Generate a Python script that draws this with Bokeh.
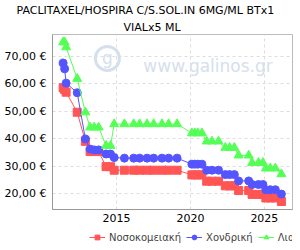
from bokeh.plotting import figure
from bokeh.models import Legend, LegendItem, FixedTicker, Range1d, Title
from bokeh.layouts import column
from bokeh.core.properties import value
from bokeh.embed import file_html
from bokeh.resources import INLINE

title_line1 = "PACLITAXEL/HOSPIRA C/S.SOL.IN 6MG/ML BTx1"
title_line2 = "VIALx5 ML"

dates = [2011.40, 2011.50, 2011.60, 2012.35, 2012.90, 2013.22, 2013.50, 2013.80,
         2014.30, 2014.60, 2014.85,
         2015.54, 2016.17, 2016.57, 2017.07, 2017.52, 2018.08, 2018.53, 2019.10,
         2020.10, 2020.30, 2020.50, 2020.78,
         2021.10, 2021.46, 2021.90,
         2022.36, 2022.65, 2022.97,
         2023.26, 2023.94,
         2024.17, 2024.60, 2024.90,
         2025.10, 2025.40, 2025.74,
         2026.15]

hospital = [58.6, 58.0, 57.0, 49.7, 39.1, 35.4, 35.4, 35.4, 29.9, 29.9, 28.6,
            28.6, 28.6, 28.6, 28.6, 28.6, 28.6, 28.6, 28.6,
            26.9, 26.9, 26.9, 26.9,
            24.6, 24.6, 24.6,
            22.9, 22.9, 22.9,
            21.2, 21.2,
            19.8, 19.8, 19.8,
            18.5, 18.5, 18.5,
            17.2]

wholesale = [67.6, 65.5, 60.3, 56.8, 40.0, 36.3, 36.0, 36.0, 34.5, 34.5, 33.2,
             33.0, 33.0, 33.0, 33.0, 33.0, 33.0, 33.0, 33.0,
             30.8, 30.8, 30.8, 30.8,
             28.6, 28.6, 28.6,
             27.0, 27.0, 27.0,
             24.7, 24.7,
             23.4, 23.4, 23.4,
             21.5, 21.5, 21.5,
             19.9]

retail = [75.2, 75.2, 73.4, 61.9, 49.7, 44.2, 44.2, 44.2, 37.5, 37.5, 45.4,
          45.4, 45.4, 45.4, 45.4, 45.4, 45.4, 45.4, 45.4,
          42.1, 42.1, 42.1, 42.1,
          39.1, 39.1, 39.1,
          36.8, 36.8, 36.8,
          34.0, 34.0,
          31.3, 31.3, 31.3,
          29.3, 29.3, 29.3,
          27.2]

series_names = ["Νοσοκομειακή", "Χονδρική", "Λιανική"]
x_ticks = [2015, 2020, 2025]
y_ticks = [20, 30, 40, 50, 60, 70]
y_tick_labels = ["20,00 €", "30,00 €", "40,00 €", "50,00 €", "60,00 €", "70,00 €"]

FONT = "DejaVu Sans"

p = figure(frame_width=240, frame_height=175, output_backend="svg", toolbar_location=None,
           x_range=Range1d(2010.68, 2026.9), y_range=Range1d(14.3, 78.0),
           min_border_left=52, min_border_right=8, min_border_top=34, min_border_bottom=19,
           title=None)

t2 = Title(text=title_line2, align="left", offset=71, standoff=2,
           text_font=FONT, text_font_size="11px", text_font_style="normal",
           text_color="#000000")
t1 = Title(text=title_line1, align="left", offset=-36, standoff=1,
           text_font=FONT, text_font_size="11px", text_font_style="normal",
           text_color="#000000")
p.add_layout(t2, "above")
p.add_layout(t1, "above")

p.outline_line_color = "#bbbbbb"
p.background_fill_color = "#ffffff"
p.border_fill_color = "#ffffff"

p.xgrid.ticker = FixedTicker(ticks=x_ticks)
p.ygrid.ticker = FixedTicker(ticks=y_ticks)
for g in (p.xgrid, p.ygrid):
    g.grid_line_color = "#dddddd"
    g.grid_line_dash = "3 3"

p.xaxis.ticker = FixedTicker(ticks=x_ticks)
p.yaxis.ticker = FixedTicker(ticks=y_ticks)
p.yaxis.major_label_overrides = {t: l for t, l in zip(y_ticks, y_tick_labels)}
for ax in (p.xaxis, p.yaxis):
    ax.axis_line_color = "#999999"
    ax.major_tick_line_color = None
    ax.minor_tick_line_color = None
    ax.major_tick_out = 0
    ax.major_tick_in = 0
    ax.minor_tick_out = 0
    ax.minor_tick_in = 0
    ax.major_label_text_font = FONT
    ax.major_label_text_font_size = "11px"
    ax.major_label_text_color = "#000000"
p.yaxis.major_label_standoff = 6
p.xaxis.major_label_standoff = 4

# watermark
p.circle([2014.39], [69.3], radius=12, radius_units="screen", fill_color=None,
         line_color="#d6e0ec", line_width=3)
p.text([2014.39], [69.3], text=["g"], text_font=value(FONT), text_font_size="17px",
       text_color="#d6e0ec", text_align="center", text_baseline="middle")
p.text([2016.82], [66.7], text=["www.galinos.gr"], text_font=value(FONT),
       text_font_size="17px", text_color="#d6e0ec", text_align="left",
       text_baseline="alphabetic")

colors = ["#ff5555", "#5555ff", "#55ff55"]
markers = ["square", "circle", "triangle"]
sizes = [8, 8, 9]
for vals, c, m, s in zip([hospital, wholesale, retail], colors, markers, sizes):
    p.line(dates, vals, line_color=c, line_width=1)
    p.scatter(dates, vals, marker=m, size=s, fill_color=c, line_color=c)

# separate strip holding the legend (its glyphs are out of view)
lg = figure(width=300, height=22, output_backend="svg", toolbar_location=None,
            x_range=Range1d(0, 1), y_range=Range1d(0, 1),
            x_axis_type=None, y_axis_type=None,
            min_border_left=0, min_border_right=0, min_border_top=0, min_border_bottom=0)
lg.grid.visible = False
lg.outline_line_color = None
items = []
for name, vals, c, m, s in zip(series_names, [hospital, wholesale, retail], colors, markers, sizes):
    ln = lg.line(dates, vals, line_color=c, line_width=1)
    sc = lg.scatter(dates, vals, marker=m, size=s, fill_color=c, line_color=c)
    items.append(LegendItem(label=name, renderers=[ln, sc]))

legend = Legend(items=items, orientation="horizontal", location=(37, 7),
                label_text_font=FONT, label_text_font_size="10px",
                label_height=12, glyph_width=16, glyph_height=12,
                border_line_color=None, background_fill_alpha=0,
                spacing=5, padding=0, margin=0, label_standoff=4)
lg.add_layout(legend)

layout = column(p, lg, spacing=0)
open("out.html", "w").write(file_html(layout, INLINE))
